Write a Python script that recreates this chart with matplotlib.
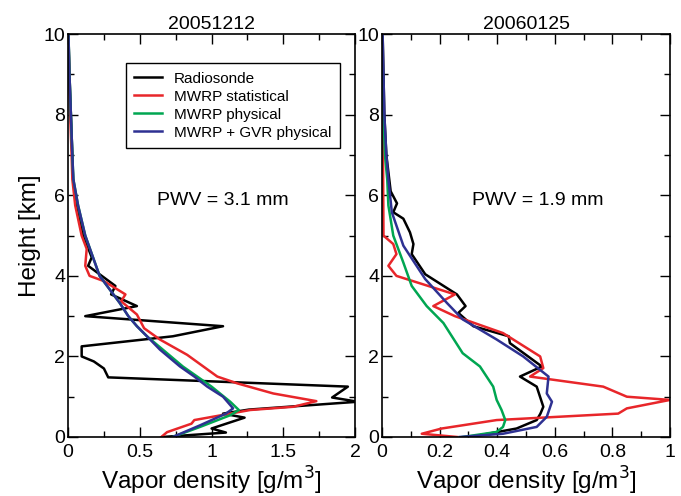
import matplotlib
matplotlib.use('Agg')
import matplotlib.pyplot as plt
from matplotlib.ticker import MultipleLocator

plt.rcParams['font.family'] = ['Liberation Sans', 'DejaVu Sans']

titles = ['20051212', '20060125']
pwv_text = ['PWV = 3.1 mm', 'PWV = 1.9 mm']
labels = ['Radiosonde', 'MWRP statistical', 'MWRP physical', 'MWRP + GVR physical']
colors = ['black', '#e8262a', '#00a651', '#2e3192']

# 20051212 profiles (height km, vapor density g/m3)
h_rs1 = [10, 9, 8, 7, 6.4, 5.75, 5.0, 4.46, 4.25, 3.75, 3.54, 3.25, 3.0, 2.75, 2.5, 2.25, 2.0,
         1.875, 1.7, 1.48, 1.25, 0.98, 0.875, 0.68, 0.58, 0.48, 0.21, 0.11, 0.0]
v_rs1 = [0.003, 0.01, 0.02, 0.03, 0.035, 0.06, 0.107, 0.165, 0.14, 0.33, 0.30, 0.48, 0.12, 1.08,
         0.73, 0.095, 0.095, 0.18, 0.25, 0.28, 1.95, 1.84, 2.02, 1.26, 1.08, 1.23, 1.0, 1.1, 0.66]
h_st1 = [10, 9, 8, 7, 6.4, 5.75, 5.0, 4.67, 4.25, 4.0, 3.87, 3.54, 3.37, 3.04, 2.7, 2.42, 2.04,
         1.5, 1.33, 1.08, 0.89, 0.75, 0.67, 0.42, 0.33, 0.12, 0.0]
v_st1 = [0.002, 0.008, 0.015, 0.025, 0.03, 0.05, 0.095, 0.13, 0.12, 0.15, 0.25, 0.40, 0.37, 0.48,
         0.53, 0.64, 0.83, 1.04, 1.18, 1.43, 1.73, 1.57, 1.27, 0.88, 0.86, 0.69, 0.65]
h_ph1 = [10, 9, 8, 7, 6.4, 5.75, 5.0, 4.5, 4.0, 3.33, 3.0, 2.75, 2.5, 2.17, 1.75, 1.25, 0.875,
         0.67, 0.54, 0.25, 0.0]
v_ph1 = [0.003, 0.01, 0.02, 0.03, 0.037, 0.07, 0.12, 0.17, 0.22, 0.36, 0.42, 0.48, 0.55, 0.66,
         0.80, 1.0, 1.13, 1.19, 1.13, 0.92, 0.73]
h_gv1 = [10, 9, 8, 7, 6.4, 5.75, 5.0, 4.5, 4.0, 3.33, 3.0, 2.75, 2.5, 2.17, 1.75, 1.5, 1.25, 1.0,
         0.71, 0.58, 0.29, 0.0]
v_gv1 = [0.003, 0.01, 0.02, 0.03, 0.037, 0.07, 0.12, 0.17, 0.22, 0.36, 0.42, 0.48, 0.55, 0.64,
         0.78, 0.88, 0.97, 1.08, 1.15, 1.10, 0.92, 0.73]

# 20060125 profiles
h_rs2 = [10, 8, 7, 6.4, 6.1, 5.8, 5.58, 5.42, 5.08, 4.79, 4.54, 4.04, 3.54, 3.25, 3.08, 2.75, 2.5,
         2.33, 1.75, 1.5, 1.25, 0.75, 0.58, 0.42, 0.21, 0.0]
v_rs2 = [0.002, 0.008, 0.015, 0.025, 0.03, 0.052, 0.039, 0.074, 0.097, 0.109, 0.103, 0.15, 0.26,
         0.29, 0.265, 0.317, 0.44, 0.444, 0.555, 0.479, 0.537, 0.56, 0.55, 0.537, 0.467, 0.306]
h_st2 = [10, 5.0, 4.79, 4.54, 4.25, 4.0, 3.54, 3.25, 3.0, 2.58, 2.0, 1.71, 1.5, 1.25, 1.0, 0.92,
         0.71, 0.58, 0.42, 0.21, 0.08, 0.0]
v_st2 = [0.001, 0.005, 0.039, 0.05, 0.022, 0.05, 0.253, 0.178, 0.253, 0.42, 0.549, 0.56, 0.514,
         0.768, 0.85, 1.0, 0.85, 0.82, 0.398, 0.207, 0.138, 0.26]
h_ph2 = [10, 8, 7, 6.4, 5.75, 5.0, 4.33, 3.75, 3.25, 2.83, 2.08, 1.75, 1.25, 0.92, 0.67, 0.42,
         0.25, 0.125, 0.0]
v_ph2 = [0.001, 0.005, 0.01, 0.018, 0.022, 0.039, 0.074, 0.103, 0.155, 0.213, 0.28, 0.34, 0.386,
         0.398, 0.415, 0.428, 0.42, 0.398, 0.28]
h_gv2 = [10, 8, 7, 6.4, 5.58, 4.75, 3.92, 3.33, 2.92, 2.42, 2.0, 1.5, 1.08, 0.875, 0.5, 0.25,
         0.08, 0.0]
v_gv2 = [0.002, 0.008, 0.015, 0.022, 0.034, 0.074, 0.15, 0.225, 0.28, 0.398, 0.49, 0.578, 0.572,
         0.59, 0.572, 0.537, 0.42, 0.27]

panels = [
    [(v_rs1, h_rs1), (v_st1, h_st1), (v_ph1, h_ph1), (v_gv1, h_gv1)],
    [(v_rs2, h_rs2), (v_st2, h_st2), (v_ph2, h_ph2), (v_gv2, h_gv2)],
]
xmax = [2, 1]
xmajor = [0.5, 0.2]
xminor = [0.25, 0.1]

fig = plt.figure(figsize=(6.81, 4.96), dpi=100)
ax1 = fig.add_axes([0.0999, 0.119, 0.4215, 0.812])
ax2 = fig.add_axes([0.561, 0.119, 0.4229, 0.812])

for k, ax in enumerate([ax1, ax2]):
    for (v, h), c, lab in zip(panels[k], colors, labels):
        ax.plot(v, h, color=c, lw=1.8, label=lab)
    ax.set_xlim(0, xmax[k])
    ax.set_ylim(0, 10)
    ax.xaxis.set_major_locator(MultipleLocator(xmajor[k]))
    ax.xaxis.set_minor_locator(MultipleLocator(xminor[k]))
    ax.yaxis.set_major_locator(MultipleLocator(2))
    ax.yaxis.set_minor_locator(MultipleLocator(1))
    ax.tick_params(which='both', direction='in', top=True, right=True, labelsize=14)
    ax.tick_params(axis='x', pad=5)
    ax.tick_params(axis='y', pad=2)
    ax.tick_params(which='major', length=7, width=1)
    ax.tick_params(which='minor', length=4, width=1)
    ax.xaxis.set_major_formatter(plt.FuncFormatter(lambda x, p: '%g' % x))
    for s in ax.spines.values():
        s.set_linewidth(1.2)
    ax.set_title(titles[k], fontsize=14, pad=4)
    ax.set_xlabel('Vapor density [g/m$^3$]', fontsize=17.5, labelpad=3)
    ax.text(xmax[k] * 0.54, 5.88, pwv_text[k], fontsize=14, ha='center', va='center')

ax1.set_ylabel('Height [km]', fontsize=17.5, labelpad=2)

leg = ax1.legend(loc='upper left', bbox_to_anchor=(0.202, 0.928), borderaxespad=0,
                 fontsize=11, handlelength=1.8, labelspacing=0.26, fancybox=False,
                 framealpha=1, edgecolor='black', borderpad=0.55, handletextpad=0.8)
leg.get_frame().set_linewidth(1.0)

fig.savefig('out.png', dpi=100)
